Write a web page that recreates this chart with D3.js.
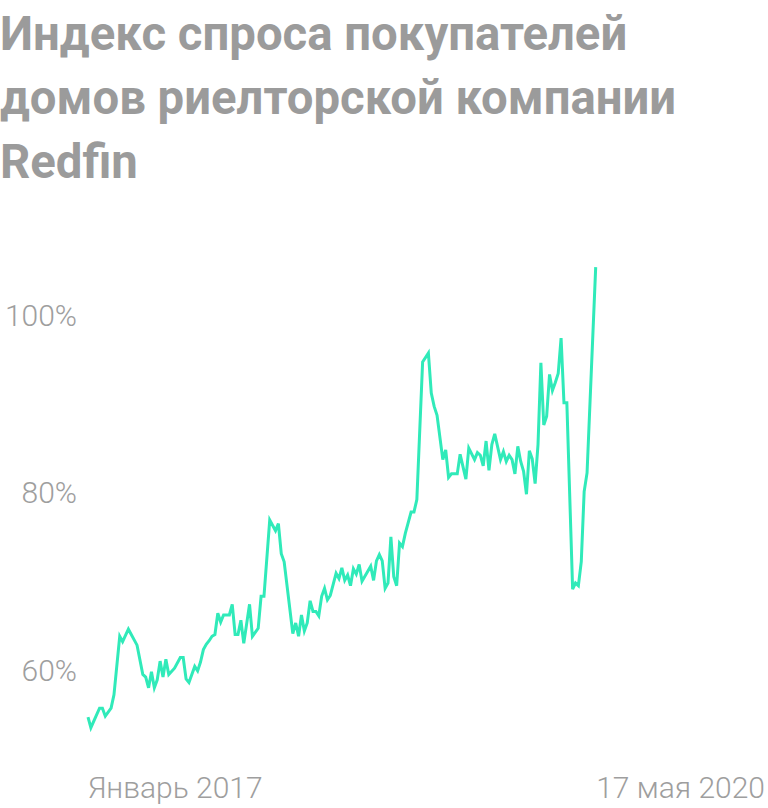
<!DOCTYPE html>
<html>
<head>
<meta charset="utf-8">
<script src="https://cdn.jsdelivr.net/npm/d3@7"></script>
<style>
  html, body { margin: 0; padding: 0; background: #fff; }
  svg { display: block; }
</style>
</head>
<body>
<svg id="chart" width="768" height="808"></svg>
<script>
// ---- Data ----
const titleLines = ["Индекс спроса покупателей", "домов риелторской компании", "Redfin"];
const xLabels = ["Январь 2017", "17 мая 2020"];
const yTicks = [60, 80, 100];
const totalWeeks = 176; // Jan 2017 -> 17 May 2020
const weeks = [0,1,4,5,6,8,9,11,12,14,17,19,20,21,22,23,24,25,26,27,28,30,32,33,34,35,37,38,39,40,41,42,43,44,45,46,47,49,50,51,52,53,54,56,57,59,60,61,63,65,66,67,68,71,72,73,74,75,76,77,78,79,80,81,82,83,84,86,87,88,89,90,91,92,93,94,95,98,99,100,101,102,103,104,105,106,107,108,109,110,112,113,114,116,118,119,120,121,123,124,125,126,128,129,131,132,134,135,136,137,138,139,140,141,143,144,145,146,147,148,149,150,151,152,153,154,155,156,157,158,159,160,161,162,163,164,165,166,168,169,170,171,172,173,176];
const values = [54.7,53.5,55.7,55.7,54.8,55.7,57.2,63.8,63.2,64.6,62.8,59.5,59.2,58.0,59.8,58.0,58.9,61.0,59.2,61.2,59.5,60.2,61.4,61.4,59.0,58.6,60.4,59.9,60.9,62.3,62.9,63.3,63.8,64.0,66.4,65.4,66.2,66.2,67.4,64.0,64.0,65.6,63.0,67.4,63.8,64.7,68.3,68.3,76.9,75.7,76.5,73.1,72.2,64.1,65.3,63.8,66.2,64.4,65.3,67.8,66.6,66.6,66.1,68.3,69.2,67.9,68.4,70.9,70.3,71.5,70.1,70.7,69.5,71.4,70.8,71.9,70.0,71.7,70.1,72.3,73.0,72.3,69.2,69.8,75.0,70.5,69.5,74.3,73.9,75.4,77.8,77.8,79.2,94.7,95.7,91.2,89.7,88.7,83.7,84.8,81.7,82.1,82.1,84.3,81.5,85.0,83.7,84.5,84.2,83.0,85.8,82.5,85.4,86.6,83.7,84.6,83.5,84.2,83.7,82.1,85.2,83.5,82.4,79.8,84.7,83.8,81.0,85.4,94.6,87.6,88.6,93.3,91.5,92.4,93.4,97.4,90.1,90.1,69.1,69.8,69.5,72.2,80.1,82.2,105.4];

// ---- Chart ----
const svg = d3.select("#chart");
const grey = "#9b9b9b";
const labelGrey = "#9e9e9e";
const font = "Roboto, 'Noto Sans', sans-serif";

const x = d3.scaleLinear().domain([0, totalWeeks]).range([88, 595.7]);
const y = d3.scaleLinear().domain([60, 100]).range([670, 315]);

// Title
svg.append("g").selectAll("text").data(titleLines).join("text")
  .attr("x", 0)
  .attr("y", (d, i) => 50 + i * 64)
  .attr("font-family", font)
  .attr("font-weight", 700)
  .attr("font-size", 47.3)
  .attr("fill", grey)
  .text(d => d);

// Y labels
svg.append("g").selectAll("text").data(yTicks).join("text")
  .attr("x", 77)
  .attr("y", d => y(d))
  .attr("dy", "0.35em")
  .attr("text-anchor", "end")
  .attr("font-family", font)
  .attr("font-weight", 300)
  .attr("font-size", 30)
  .attr("fill", labelGrey)
  .text(d => d + "%");

// X labels
svg.append("text")
  .attr("x", x(0))
  .attr("y", 798)
  .attr("font-family", font)
  .attr("font-weight", 300)
  .attr("font-size", 30)
  .attr("fill", labelGrey)
  .text(xLabels[0]);
svg.append("text")
  .attr("x", 765)
  .attr("y", 798)
  .attr("text-anchor", "end")
  .attr("font-family", font)
  .attr("font-weight", 300)
  .attr("font-size", 30)
  .attr("fill", labelGrey)
  .text(xLabels[1]);

// Line
const data = weeks.map((w, i) => ({w, v: values[i]}));
svg.append("path")
  .datum(data)
  .attr("fill", "none")
  .attr("stroke", "#30eab9")
  .attr("stroke-width", 3)
  .attr("stroke-linejoin", "miter")
  .attr("d", d3.line().x(d => x(d.w)).y(d => y(d.v)));
</script>
</body>
</html>
